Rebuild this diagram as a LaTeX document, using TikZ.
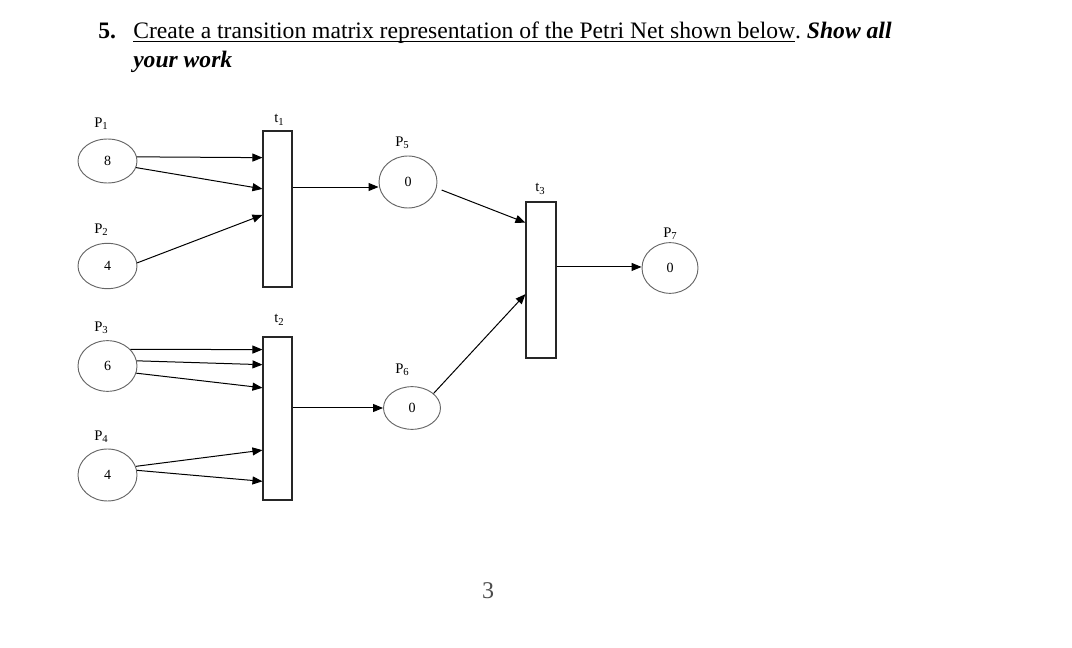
\documentclass[tikz,border=0pt]{standalone}
\usepackage{fontspec}
\setmainfont{Liberation Serif}
\usetikzlibrary{arrows.meta,calc,shapes.geometric}
\newcommand\subs[1]{\raisebox{-0.35ex}{\fontsize{8}{8}\selectfont #1}}
\begin{document}
\begin{tikzpicture}[x=0.75pt,y=-0.75pt,
  place/.style={draw=black!60,line width=0.7pt,ellipse,inner sep=0pt,font=\fontsize{10.5}{12}\selectfont},
  trans/.style={draw=black!85,line width=0.8pt,rectangle,inner sep=0pt,minimum width=21.75pt},
  arc/.style={line width=0.75pt,-{Triangle[length=7.5pt,width=6pt]}},
  lab/.style={font=\fontsize{11}{12}\selectfont,inner sep=0pt},
  ttl/.style={anchor=base west,inner sep=0pt,font=\fontsize{17.7}{21}\selectfont}]
\useasboundingbox (0,0) rectangle (1072,648);
% title
\node[ttl] (num) at (98,39) {\textbf{5.}};
\node[ttl] (title) at (133,39) {\underline{\smash{Create a transition matrix representation of the Petri Net shown below}}.\ \textbf{\textit{Show all}}};
\node[ttl] (title2) at (133,68) {\textbf{\textit{your work}}};
% places
\node[place,minimum width=44.25pt,minimum height=33pt] (P1) at (107.5,161) {8};
\node[place,minimum width=44.25pt,minimum height=34pt] (P2) at (107.5,266) {4};
\node[place,minimum width=44.25pt,minimum height=38pt] (P3) at (107.5,366) {6};
\node[place,minimum width=44.25pt,minimum height=39pt] (P4) at (107.5,475) {4};
\node[place,minimum width=43.5pt,minimum height=39pt] (P5) at (408,182) {0};
\node[place,minimum width=42.75pt,minimum height=32pt] (P6) at (412,408) {0};
\node[place,minimum width=42pt,minimum height=38pt] (P7) at (670,268) {0};
% place labels
\node[lab] (lP1) at (101,124) {P\subs{1}};
\node[lab] (lP2) at (101,230) {P\subs{2}};
\node[lab] (lP3) at (101,328) {P\subs{3}};
\node[lab] (lP4) at (101,437) {P\subs{4}};
\node[lab] (lP5) at (402,143) {P\subs{5}};
\node[lab] (lP6) at (402,370) {P\subs{6}};
\node[lab] (lP7) at (670,234) {P\subs{7}};
% transitions
\node[trans,minimum height=117pt] (t1) at (277.5,209) {};
\node[trans,minimum height=122.25pt] (t2) at (277.5,418.5) {};
\node[trans,minimum width=22.5pt,minimum height=117pt] (t3) at (541,280) {};
\node[lab] (lt1) at (279,120) {t\subs{1}};
\node[lab] (lt2) at (279,320) {t\subs{2}};
\node[lab] (lt3) at (540,189) {t\subs{3}};
% page number
\node[inner sep=0pt,text=black!70,font=\fontsize{18}{20}\selectfont] (pg) at (488,591) {3};
% arcs into t1
\draw[arc] (P1.8) -- ($(t1.north west)!0.173!(t1.south west)$);
\draw[arc] (P1.-13) -- ($(t1.north west)!0.372!(t1.south west)$);
\draw[arc] (P2.6) -- ($(t1.north west)!0.538!(t1.south west)$);
% arcs into t2
\draw[arc] (P3.36) -- ($(t2.north west)!0.08!(t2.south west)$);
\draw[arc] (P3.10) -- ($(t2.north west)!0.172!(t2.south west)$);
\draw[arc] (P3.-14) -- ($(t2.north west)!0.313!(t2.south west)$);
\draw[arc] (P4.17) -- ($(t2.north west)!0.693!(t2.south west)$);
\draw[arc] (P4.9) -- ($(t2.north west)!0.883!(t2.south west)$);
% outputs
\coordinate (o1) at ($(t1.north east)!0.36!(t1.south east)$);
\draw[arc] (o1) -- (o1 -| P5.west);
\coordinate (o2) at ($(t2.north east)!0.436!(t2.south east)$);
\draw[arc] (o2) -- (o2 -| P6.west);
\draw[arc,shorten <=4pt] (P5.-12) -- ($(t3.north west)!0.135!(t3.south west)$);
\draw[arc] (P6.34) -- ($(t3.north west)!0.59!(t3.south west)$);
\coordinate (o3) at ($(t3.north east)!0.417!(t3.south east)$);
\draw[arc] (o3) -- (o3 -| P7.west);
\end{tikzpicture}
\end{document}
